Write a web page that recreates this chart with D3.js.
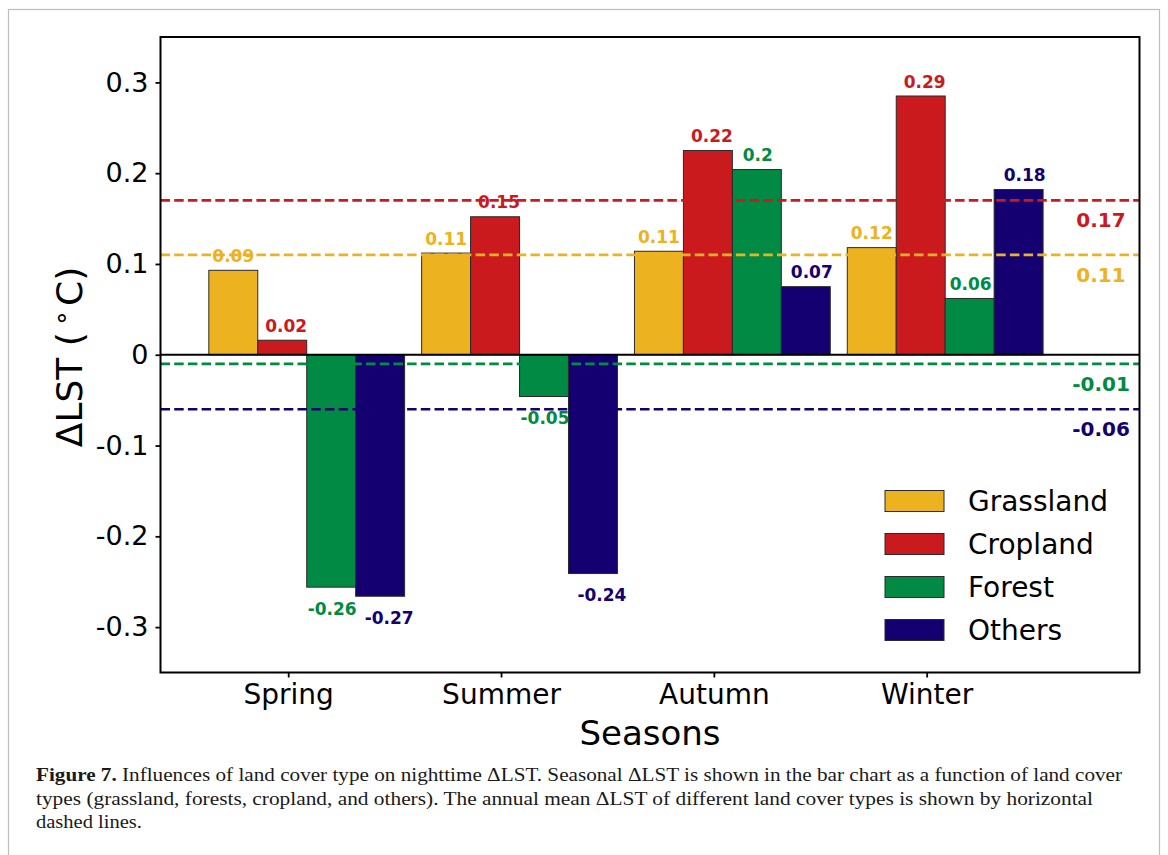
<!DOCTYPE html>
<html>
<head>
<meta charset="utf-8">
<script src="https://cdn.jsdelivr.net/npm/d3@7"></script>
<style>
  body { margin: 0; background: #fff; }
  svg { display: block; }
  .tick text { font-family: "DejaVu Sans", sans-serif; fill: #000; }
</style>
</head>
<body>
<div id="chart"></div>
<script>
// seasons on the x axis
const seasons = ["Spring", "Summer", "Autumn", "Winter"];
// land cover types
const covers = ["Grassland", "Cropland", "Forest", "Others"];
const coverColors = ["#EDB220", "#CB1A1E", "#008A44", "#140071"];

// seasonal delta LST per cover (one value per season)
const grassland = [0.093, 0.112, 0.114, 0.118];
const cropland  = [0.016, 0.152, 0.225, 0.285];
const forest    = [-0.256, -0.046, 0.204, 0.062];
const others    = [-0.266, -0.241, 0.075, 0.182];
// labels printed above/below bars
const grasslandLbl = ["0.09", "0.11", "0.11", "0.12"];
const croplandLbl  = ["0.02", "0.15", "0.22", "0.29"];
const forestLbl    = ["-0.26", "-0.05", "0.2", "0.06"];
const othersLbl    = ["-0.27", "-0.24", "0.07", "0.18"];

// annual means (dashed lines), same order as covers
const annualMean = [0.11, 0.17, -0.01, -0.06];
const annualLbl  = ["0.11", "0.17", "-0.01", "-0.06"];

const yTicks = [-0.3, -0.2, -0.1, 0, 0.1, 0.2, 0.3];
const yTickLbl = ["-0.3", "-0.2", "-0.1", "0", "0.1", "0.2", "0.3"];

const values = [grassland, cropland, forest, others];
const labels = [grasslandLbl, croplandLbl, forestLbl, othersLbl];

const W = 1168, H = 855;
const svg = d3.select("#chart").append("svg")
  .attr("width", W).attr("height", H);

// figure frame
svg.append("rect")
  .attr("x", 8.5).attr("y", 9.5)
  .attr("width", 1151).attr("height", 900)
  .attr("fill", "none").attr("stroke", "#bdbdbd").attr("stroke-width", 1.2);

const pLeft = 160.5, pRight = 1139.5, pTop = 37, pBottom = 672.5;
const x = d3.scaleLinear().domain([-0.6, 4.0]).range([pLeft, pRight]);
const y = d3.scaleLinear().domain([-0.35, 0.35]).range([pBottom, pTop]);

const barW = 0.23, groupStart = -0.373;
const labelShift = [0, 4, 1, 6];

const g = svg.append("g");

// bars
covers.forEach((c, j) => {
  g.selectAll(".bar" + j).data(values[j]).enter().append("rect")
    .attr("x", (d, i) => x(i + groupStart + j * barW))
    .attr("width", x(barW) - x(0))
    .attr("y", d => y(Math.max(0, d)))
    .attr("height", d => Math.abs(y(d) - y(0)))
    .attr("fill", coverColors[j])
    .attr("stroke", "#2a2a2a")
    .attr("stroke-width", 1);
});

// zero line
g.append("line")
  .attr("x1", pLeft).attr("x2", pRight)
  .attr("y1", y(0)).attr("y2", y(0))
  .attr("stroke", "#000").attr("stroke-width", 2);

// annual mean dashed lines
annualMean.forEach((m, j) => {
  g.append("line")
    .attr("x1", pLeft).attr("x2", pRight)
    .attr("y1", y(m)).attr("y2", y(m))
    .attr("stroke", coverColors[j]).attr("stroke-width", 2.6)
    .attr("stroke-dasharray", "9.5,4.2");
  g.append("text")
    .attr("x", 1101).attr("y", y(m) + 27)
    .attr("text-anchor", "middle")
    .attr("font-family", "DejaVu Sans").attr("font-weight", "bold")
    .attr("font-size", 20).attr("fill", coverColors[j])
    .text(annualLbl[j]);
});

// bar value labels
covers.forEach((c, j) => {
  g.selectAll(".lbl" + j).data(values[j]).enter().append("text")
    .attr("x", (d, i) => x(i + groupStart + j * barW + barW / 2) + labelShift[j] + (d < 0 && j == 3 ? 3 : 0))
    .attr("y", d => d >= 0 ? y(d) - 8.5 : y(d) + 27.5)
    .attr("text-anchor", "middle")
    .attr("font-family", "DejaVu Sans").attr("font-weight", "bold")
    .attr("font-size", 17).attr("fill", coverColors[j])
    .text((d, i) => labels[j][i]);
});

// frame
svg.append("rect")
  .attr("x", pLeft).attr("y", pTop)
  .attr("width", pRight - pLeft).attr("height", pBottom - pTop)
  .attr("fill", "none").attr("stroke", "#000").attr("stroke-width", 2);

// y axis
const yAxis = svg.append("g")
  .attr("transform", `translate(${pLeft},0)`)
  .call(d3.axisLeft(y).tickValues(yTicks).tickSize(5).tickPadding(7)
    .tickFormat((d, i) => yTickLbl[i]));
yAxis.select(".domain").remove();
yAxis.selectAll(".tick line").attr("stroke", "#000").attr("stroke-width", 1.8);
yAxis.selectAll(".tick text").attr("font-size", 27);

// x axis
const xAxis = svg.append("g")
  .attr("transform", `translate(0,${pBottom})`)
  .call(d3.axisBottom(x).tickValues([0, 1, 2, 3]).tickSize(5).tickPadding(7)
    .tickFormat(i => seasons[i]));
xAxis.select(".domain").remove();
xAxis.selectAll(".tick line").attr("stroke", "#000").attr("stroke-width", 1.8);
xAxis.selectAll(".tick text").attr("font-size", 28);

// axis titles
svg.append("text")
  .attr("x", (pLeft + pRight) / 2).attr("y", 745)
  .attr("text-anchor", "middle")
  .attr("font-family", "DejaVu Sans").attr("font-size", 34)
  .text("Seasons");

const yl = svg.append("text")
  .attr("transform", "translate(82,357) rotate(-90)")
  .attr("text-anchor", "middle")
  .attr("font-family", "DejaVu Sans").attr("font-size", 36);
yl.append("tspan").text("ΔLST (");
yl.append("tspan").attr("dx", 6).attr("dy", -12).attr("font-size", 26).text("∘");
yl.append("tspan").attr("dx", 4).attr("dy", 12).text("C)");

// legend
const leg = svg.append("g").attr("transform", "translate(885,490.5)");
covers.forEach((c, j) => {
  leg.append("rect")
    .attr("x", 0).attr("y", j * 43)
    .attr("width", 59).attr("height", 21)
    .attr("fill", coverColors[j]).attr("stroke", "#2a2a2a").attr("stroke-width", 1);
  leg.append("text")
    .attr("x", 83).attr("y", j * 43 + 20.5)
    .attr("font-family", "DejaVu Sans").attr("font-size", 28)
    .text(c);
});

// caption
const cap = svg.append("g").attr("font-family", "Liberation Serif").attr("font-size", 19).attr("fill", "#1a1a1a");
const c1 = cap.append("text").attr("x", 36).attr("y", 781)
  .attr("textLength", 1086).attr("lengthAdjust", "spacingAndGlyphs");
c1.append("tspan").attr("font-weight", "bold").text("Figure 7. ");
c1.append("tspan").text("Influences of land cover type on nighttime ΔLST. Seasonal ΔLST is shown in the bar chart as a function of land cover");
cap.append("text").attr("x", 36).attr("y", 805)
  .attr("textLength", 1057).attr("lengthAdjust", "spacingAndGlyphs")
  .text("types (grassland, forests, cropland, and others). The annual mean ΔLST of different land cover types is shown by horizontal");
cap.append("text").attr("x", 36).attr("y", 828)
  .attr("textLength", 106).attr("lengthAdjust", "spacingAndGlyphs")
  .text("dashed lines.");
</script>
</body>
</html>
